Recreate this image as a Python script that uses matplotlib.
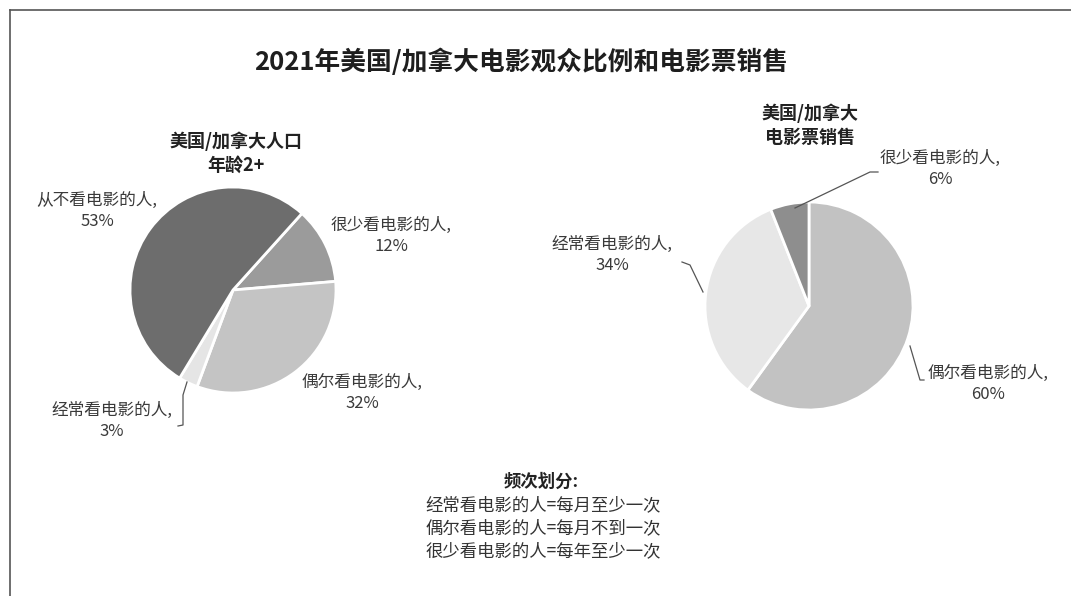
import matplotlib.pyplot as plt
from matplotlib.lines import Line2D

plt.rcParams['font.family'] = ['Noto Sans CJK SC', 'DejaVu Sans']

# chart data
title = "2021年美国/加拿大电影观众比例和电影票销售"

pop_title = "美国/加拿大人口\n年龄2+"
pop_groups = ["很少看电影的人", "偶尔看电影的人", "经常看电影的人", "从不看电影的人"]
pop_shares = [12, 32, 3, 53]

tix_title = "美国/加拿大\n电影票销售"
tix_groups = ["偶尔看电影的人", "经常看电影的人", "很少看电影的人"]
tix_shares = [60, 34, 6]

note_title = "频次划分:"
note_lines = ["经常看电影的人=每月至少一次",
              "偶尔看电影的人=每月不到一次",
              "很少看电影的人=每年至少一次"]

# grey for each group
greys = {
    "从不看电影的人": "#6d6d6d",
    "很少看电影的人": "#9b9b9b",
    "偶尔看电影的人": "#c4c4c4",
    "经常看电影的人": "#e5e5e5",
}
tix_greys = {
    "偶尔看电影的人": "#c2c2c2",
    "经常看电影的人": "#e7e7e7",
    "很少看电影的人": "#8e8e8e",
}

W, H = 1071, 596
fig = plt.figure(figsize=(W / 100, H / 100), dpi=100)
ax = fig.add_axes([0, 0, 1, 1])
ax.axis('off')


def py(y):
    # convert pixel row (from top) to axis y
    return H - y


# left pie: population
ax.pie(pop_shares, colors=[greys[g] for g in pop_groups],
       startangle=48, counterclock=False,
       center=(233, py(290)), radius=103,
       wedgeprops=dict(edgecolor='white', linewidth=2))

# right pie: ticket sales
ax.pie(tix_shares, colors=[tix_greys[g] for g in tix_groups],
       startangle=90, counterclock=False,
       center=(809, py(306)), radius=104,
       wedgeprops=dict(edgecolor='white', linewidth=2))
ax.set_xlim(0, W)
ax.set_ylim(0, H)
ax.set_aspect('equal')

lab = dict(ha='center', va='center', fontsize=12, color='#3a3a3a',
           linespacing=1.3)


def label(x, y, name, val):
    ax.text(x, py(y), f"{name},\n{val}%", **lab)


# left labels
label(97, 211, pop_groups[3], pop_shares[3])
label(391, 236, pop_groups[0], pop_shares[0])
label(362, 393, pop_groups[1], pop_shares[1])
label(112, 421, pop_groups[2], pop_shares[2])

# right labels
label(940, 169, tix_groups[2], tix_shares[2])
label(612, 255, tix_groups[1], tix_shares[1])
label(988, 384, tix_groups[0], tix_shares[0])

# leader lines
line = dict(color='#555555', linewidth=0.9)
ax.plot([187, 183, 183, 178], [py(382), py(395), py(425), py(426)], **line)
ax.plot([795, 870, 878], [py(208), py(172), py(172)], **line)
ax.plot([703, 690, 682], [py(292), py(265), py(262)], **line)
ax.plot([910, 920, 924], [py(346), py(380), py(380)], **line)

# titles
ax.text(521, py(62), title, ha='center', va='center', fontsize=18.5,
        fontweight='bold', color='#1e1e1e')
ax.text(236, py(153), pop_title, ha='center', va='center', fontsize=13,
        fontweight='bold', color='#222222', linespacing=1.3)
ax.text(810, py(125), tix_title, ha='center', va='center', fontsize=13,
        fontweight='bold', color='#222222', linespacing=1.3)

# frequency note
ax.text(541, py(482), note_title, ha='center', va='center', fontsize=12.5,
        fontweight='bold', color='#222222')
for i, txt in enumerate(note_lines):
    ax.text(543, py(505 + 23 * i), txt, ha='center', va='center',
            fontsize=12.5, color='#333333')

# frame lines (top and left)
fig.add_artist(Line2D([10 / W, 1], [1 - 10 / H, 1 - 10 / H],
                      color='#555555', linewidth=1.2))
fig.add_artist(Line2D([10 / W, 10 / W], [0, 1 - 10 / H],
                      color='#555555', linewidth=1.2))

fig.savefig("out.png", dpi=100)
